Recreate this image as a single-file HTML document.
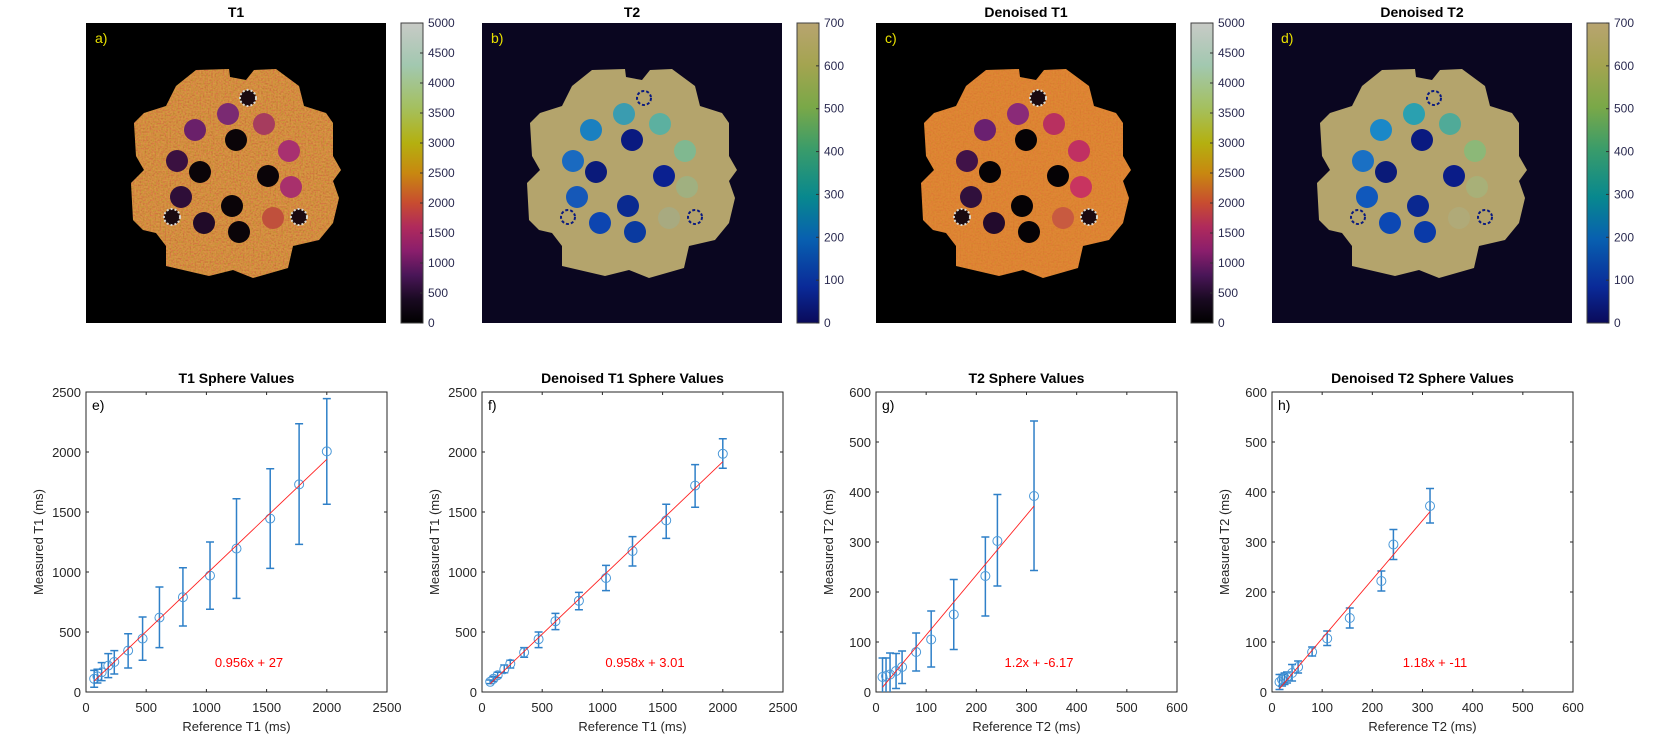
<!DOCTYPE html>
<html><head><meta charset="utf-8"><style>
html,body{margin:0;padding:0;background:#fff;}
svg{display:block;font-family:"Liberation Sans",Arial,sans-serif;}
</style></head><body>
<svg id="fig" width="1660" height="746" viewBox="0 0 1660 746" xmlns="http://www.w3.org/2000/svg">
<defs>
<linearGradient id="gT1" x1="0" y1="1" x2="0" y2="0">
<stop offset="0" stop-color="#000000"/><stop offset="0.08" stop-color="#1a0a22"/><stop offset="0.16" stop-color="#4a1658"/><stop offset="0.24" stop-color="#8a1e6c"/><stop offset="0.32" stop-color="#b02a5c"/><stop offset="0.40" stop-color="#c84c30"/><stop offset="0.50" stop-color="#c88810"/><stop offset="0.60" stop-color="#b4b010"/><stop offset="0.72" stop-color="#a4c060"/><stop offset="0.86" stop-color="#a2c8b0"/><stop offset="1" stop-color="#c8cac6"/>
</linearGradient>
<linearGradient id="gT2" x1="0" y1="1" x2="0" y2="0">
<stop offset="0" stop-color="#0a0a5a"/><stop offset="0.12" stop-color="#0a2a98"/><stop offset="0.28" stop-color="#0860b0"/><stop offset="0.42" stop-color="#08888e"/><stop offset="0.58" stop-color="#3a9c6a"/><stop offset="0.72" stop-color="#7aa848"/><stop offset="0.86" stop-color="#a4a450"/><stop offset="1" stop-color="#b8a470"/>
</linearGradient>
<filter id="noise" x="0" y="0" width="100%" height="100%">
<feTurbulence type="fractalNoise" baseFrequency="0.6" numOctaves="1" seed="3"/>
<feColorMatrix type="matrix" values="1.6 0 0 0 -0.3  0 1.4 0 0 -0.5  1.2 0 0 0 -0.2  0 0 0 0 0.35"/>
</filter>
</defs>
</svg>
<script>
// ---- chart data ----
const refT1 = [68,95,130,185,235,350,470,610,805,1030,1250,1530,1770,2000];
const measT1 = [110,130,165,220,250,345,445,620,790,970,1195,1445,1730,2005];
const lowT1 = [40,75,95,120,150,200,265,370,550,690,780,1030,1230,1565];
const highT1 = [180,190,245,320,345,485,625,875,1035,1250,1610,1860,2235,2445];

const refDT1 = [68,95,130,185,235,350,470,610,805,1030,1250,1530,1770,2000];
const measDT1 = [85,110,140,190,235,330,440,590,760,950,1175,1430,1720,1985];
const lowDT1 = [70,90,120,160,200,290,370,520,685,845,1050,1280,1540,1865];
const highDT1 = [100,130,165,225,265,370,500,655,830,1055,1295,1565,1895,2110];

const refT2 = [13,20,28,40,52,80,110,155,218,242,315];
const measT2 = [30,32,35,42,50,80,105,155,232,302,392];
const lowT2 = [-40,-30,-20,7,17,42,50,85,152,212,243];
const highT2 = [68,68,78,77,82,118,162,225,310,395,542];

const refDT2 = [15,20,25,30,40,52,80,110,155,218,242,315];
const measDT2 = [20,25,28,30,38,50,80,107,148,222,295,372];
const lowDT2 = [5,12,15,18,22,38,72,93,128,202,265,338];
const highDT2 = [35,35,38,40,55,62,90,122,168,242,325,407];

const fitSlopes = [0.956,0.958,1.2,1.18];
const fitIntercepts = [27,3.01,-6.17,-11];
const fitLabels = ["0.956x + 27","0.958x + 3.01","1.2x + -6.17","1.18x + -11"];
const t1Ticks = [0,500,1000,1500,2000,2500];
const t2Ticks = [0,100,200,300,400,500,600];
const cbT1Ticks = [0,500,1000,1500,2000,2500,3000,3500,4000,4500,5000];
const cbT2Ticks = [0,100,200,300,400,500,600,700];

// ---- phantom sphere data (relative px in 300x300 image) ----
const sphX = [162,142,178,109,150,203,91,114,182,205,95,146,86,118,187,213,153];
const sphY = [75,91,101,107,117,128,138,149,153,164,174,183,194,200,195,194,209];
const sphT1 = ["ring","#7a2a72","#a63c5e","#6a206a","#0a0408","#a83070","#3a1040","#0a0408","#0a0408","#a8306c","#2e0e38","#0a0408","ring","#200a28","#c0503c","ring","#0a0408"];
const sphDT1 = ["ring","#8a2a78","#b83060","#6a2070","#050205","#c03062","#401248","#050205","#050205","#c83460","#30103c","#050205","ring","#220a2c","#c85a40","ring","#050205"];
const sphT2 = ["ring2","#3a9cb0","#5cb0a0","#1a80c0","#0a1a80","#80b890","#1a6ac0","#0a1a7a","#0a2090","#a0b080","#1558b8","#0a2a90","ring2","#0d45b0","#a8aa80","ring2","#0a3aa0"];
const sphDT2 = ["ring2","#2aa0b0","#50aa98","#1a88c8","#0a1a80","#8cb878","#1a70c4","#0a1a78","#0a1c88","#a8b078","#1058bc","#0a2890","ring2","#0c48b4","#b0aa78","ring2","#0a3aa8"];
const blob = [[110,47],[143,46],[144,54],[160,57],[168,47],[190,46],[213,63],[218,83],[240,90],[247,100],[247,133],[255,147],[247,158],[253,175],[247,200],[233,217],[207,223],[202,245],[167,255],[147,247],[123,253],[80,243],[80,223],[70,210],[57,207],[47,197],[45,160],[58,147],[50,133],[48,100],[58,90],[80,83],[90,63]];

const NS = "http://www.w3.org/2000/svg";
const fig = document.getElementById('fig');
function mk(tag, attrs, parent){ const e=document.createElementNS(NS,tag); for(const k in attrs) e.setAttribute(k,attrs[k]); (parent||fig).appendChild(e); return e; }
function txt(s, attrs, parent){ const e=mk('text',attrs,parent); e.textContent=s; return e; }

// ---- top images ----
const imgX = [86,482,876,1272];
const imgTitles = ["T1","T2","Denoised T1","Denoised T2"];
const imgLetters = ["a)","b)","c)","d)"];
const imgBg = ["#000000","#0a0620","#000000","#0a0620"];
const imgFill = ["#d8922a","#b4a46c","#e0862a","#b4a46c"];
const imgSph = [sphT1,sphT2,sphDT1,sphDT2];
const IT = 23, IS = 300;
for(let p=0;p<4;p++){
  const x0=imgX[p];
  const g=mk('g',{});
  
  
  const t=txt(imgTitles[p],{x:x0+150,y:17,'text-anchor':'middle','font-size':14,'font-weight':'bold',fill:'#000'},g);
  
  
  const bg=mk('rect',{x:x0,y:IT,width:IS,height:IS,fill:imgBg[p]},g);
  
  
  const pts=blob.map(q=>(x0+q[0])+','+(IT+q[1])).join(' ');
  const ph=mk('polygon',{points:pts,fill:imgFill[p]},g);
  
  
  if(p===0||p===2){
    const cid='clipB'+p;
    const cp=mk('clipPath',{id:cid},g);
    mk('polygon',{points:pts},cp);
    const nz=mk('rect',{x:x0,y:IT,width:IS,height:IS,filter:'url(#noise)','clip-path':'url(#'+cid+')',opacity:p===0?0.5:0.2},g);
    
    
  }
  const cols=imgSph[p];
  for(let i=0;i<sphX.length;i++){
    const c=cols[i]; const cx=x0+sphX[i], cy=IT+sphY[i];
    let s;
    if(c==='ring'){ s=mk('circle',{cx:cx,cy:cy,r:8,fill:'#1a0a10',stroke:'#d8d8d0','stroke-width':2,'stroke-dasharray':'2 2'},g); }
    else if(c==='ring2'){ s=mk('circle',{cx:cx,cy:cy,r:7,fill:imgFill[p],stroke:'#0a1a80','stroke-width':2,'stroke-dasharray':'3 2'},g); }
    else { s=mk('circle',{cx:cx,cy:cy,r:11,fill:c},g); }
    
    
  }
  const lt=txt(imgLetters[p],{x:x0+9,y:IT+20,'font-size':14,fill:'#e8e000'},g);
  
  
  const cbx=x0+315, isT1=(p%2===0);
  const cb=mk('rect',{x:cbx,y:IT,width:22,height:IS,fill:isT1?'url(#gT1)':'url(#gT2)',stroke:'#404040','stroke-width':1},g);
  
  
  const ticks=isT1?cbT1Ticks:cbT2Ticks, vmax=isT1?5000:700;
  ticks.forEach(v=>{
    const y=IT+IS-v/vmax*IS;
    mk('line',{x1:cbx+19,x2:cbx+22,y1:y,y2:y,stroke:'#303030','stroke-width':1},g);
    const tl=txt(String(v),{x:cbx+27,y:y+4,'font-size':12,fill:'#2a2a50'},g);
    
    
  });
}

// ---- bottom charts ----
const chX = [86,482,876,1272];
const chTitles = ["T1 Sphere Values","Denoised T1 Sphere Values","T2 Sphere Values","Denoised T2 Sphere Values"];
const chLetters = ["e)","f)","g)","h)"];
const chXLab = ["Reference T1 (ms)","Reference T1 (ms)","Reference T2 (ms)","Reference T2 (ms)"];
const chYLab = ["Measured T1 (ms)","Measured T1 (ms)","Measured T2 (ms)","Measured T2 (ms)"];
const chRef=[refT1,refDT1,refT2,refDT2], chMeas=[measT1,measDT1,measT2,measDT2], chLow=[lowT1,lowDT1,lowT2,lowDT2], chHigh=[highT1,highDT1,highT2,highDT2];
const CT=392, CB=692, CW=301;
for(let p=0;p<4;p++){
  const x0=chX[p], ticks=(p<2)?t1Ticks:t2Ticks, vmax=ticks[ticks.length-1];
  const sx=v=>x0+v/vmax*CW, sy=v=>CB-v/vmax*(CB-CT);
  const g=mk('g',{});
  
  
  const cid='clipC'+p;
  const cp=mk('clipPath',{id:cid},g); mk('rect',{x:x0,y:CT,width:CW,height:CB-CT},cp);
  const t=txt(chTitles[p],{x:x0+CW/2,y:383,'text-anchor':'middle','font-size':14,'font-weight':'bold',fill:'#000'},g);
  
  
  const frame=mk('rect',{x:x0,y:CT,width:CW,height:CB-CT,fill:'#fff',stroke:'#262626','stroke-width':1},g);
  
  
  ticks.forEach(v=>{
    const X=sx(v), Y=sy(v);
    mk('line',{x1:X,x2:X,y1:CB,y2:CB-3,stroke:'#262626'},g);
    mk('line',{x1:X,x2:X,y1:CT,y2:CT+3,stroke:'#262626'},g);
    mk('line',{x1:x0,x2:x0+3,y1:Y,y2:Y,stroke:'#262626'},g);
    mk('line',{x1:x0+CW,x2:x0+CW-3,y1:Y,y2:Y,stroke:'#262626'},g);
    const xl=txt(String(v),{x:X,y:712,'text-anchor':'middle','font-size':13,fill:'#262626'},g);
    
    
    const yl=txt(String(v),{x:x0-5,y:Y+5,'text-anchor':'end','font-size':13,fill:'#262626'},g);
    
    
  });
  const xt=txt(chXLab[p],{x:x0+CW/2,y:731,'text-anchor':'middle','font-size':13,fill:'#262626'},g);
  
  
  const yt=txt(chYLab[p],{x:0,y:0,'text-anchor':'middle','font-size':13,fill:'#262626',transform:'translate('+(x0-43)+','+(CT+150)+') rotate(-90)'},g);
  
  
  const pl=mk('g',{'clip-path':'url(#'+cid+')'},g);
  const R=chRef[p], M=chMeas[p], L=chLow[p], H=chHigh[p];
  for(let i=0;i<R.length;i++){
    const X=sx(R[i]);
    const eb=mk('path',{d:'M'+X+','+sy(L[i])+'V'+sy(H[i])+'M'+(X-4)+','+sy(L[i])+'H'+(X+4)+'M'+(X-4)+','+sy(H[i])+'H'+(X+4),stroke:'#2f80c8','stroke-width':1.5,fill:'none'},pl);
    
    
    const pt=mk('circle',{cx:X,cy:sy(M[i]),r:4.5,fill:'none',stroke:'#4a98d8','stroke-width':1},pl);
    
    
  }
  const xa=Math.min(...R), xb=Math.max(...R);
  const fl=mk('line',{x1:sx(xa),y1:sy(fitSlopes[p]*xa+fitIntercepts[p]),x2:sx(xb),y2:sy(fitSlopes[p]*xb+fitIntercepts[p]),stroke:'#ff2020','stroke-width':0.9},pl);
  
  
  const ft=txt(fitLabels[p],{x:x0+163,y:667,'text-anchor':'middle','font-size':13,fill:'#ff0000'},g);
  
  
  const lt=txt(chLetters[p],{x:x0+6,y:CT+18,'font-size':14,fill:'#000'},g);
  
  
}
</script>
</body></html>
